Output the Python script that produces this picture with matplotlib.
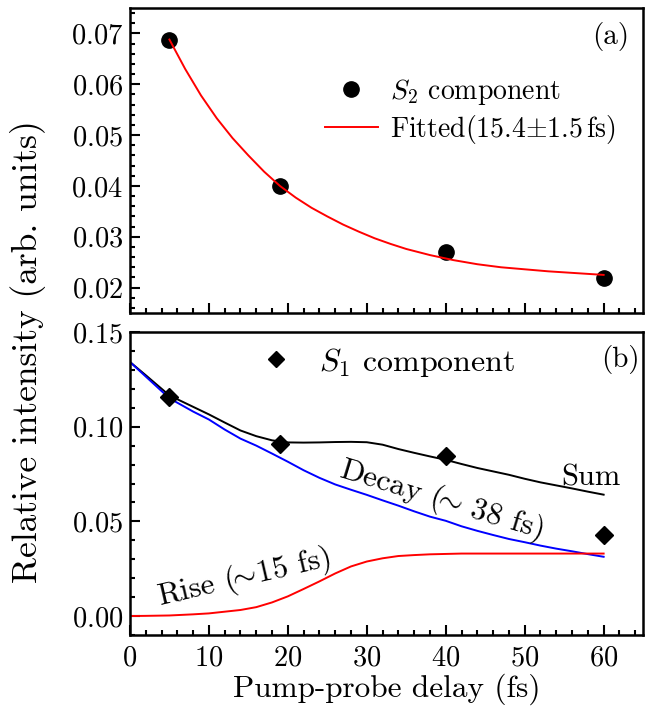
import numpy as np
import matplotlib
matplotlib.use('Agg')
import matplotlib.pyplot as plt
from matplotlib.ticker import MultipleLocator

plt.rcParams['font.family'] = 'serif'
plt.rcParams['font.serif'] = ['cmr10']
plt.rcParams['mathtext.fontset'] = 'cm'
plt.rcParams['axes.formatter.use_mathtext'] = True
plt.rcParams['axes.unicode_minus'] = False

# (a) S2 component and exponential fit
s2_delay = [5, 19, 40, 60]
s2_value = [0.0688, 0.0399, 0.0270, 0.0219]
fit_delay = [5, 7, 9, 11, 13, 15, 17, 19, 21, 23, 25, 27, 29, 31, 33, 35,
             38, 41, 44, 47, 50, 53, 56, 60]
fit_value = [0.0688, 0.0630, 0.0578, 0.0533, 0.0494, 0.0460, 0.0428, 0.0400,
             0.0377, 0.0357, 0.0340, 0.0324, 0.0310, 0.0297, 0.0286, 0.0276,
             0.0264, 0.0254, 0.0246, 0.0240, 0.0236, 0.0232, 0.0229, 0.0225]

# (b) S1 component with rise / decay / sum curves
s1_delay = [5, 19, 40, 60]
s1_value = [0.1158, 0.0909, 0.0847, 0.0430]
curve_delay = [0, 2, 5, 8, 10, 12, 14, 16, 18, 20, 22, 24, 26, 28, 30, 32, 34,
               36, 38, 40, 42, 44, 46, 48, 50, 52, 54, 56, 58, 60]
sum_value = [0.1342, 0.1272, 0.1165, 0.1105, 0.1065, 0.1022, 0.0980, 0.0950,
             0.0928, 0.0917, 0.0916, 0.0917, 0.0919, 0.0920, 0.0918, 0.0905,
             0.0882, 0.0862, 0.0843, 0.0825, 0.0803, 0.0782, 0.0764, 0.0746,
             0.0725, 0.0706, 0.0690, 0.0674, 0.0657, 0.0641]
decay_value = [0.1342, 0.1265, 0.1150, 0.1080, 0.1038, 0.0985, 0.0937, 0.0900,
               0.0858, 0.0815, 0.0770, 0.0730, 0.0695, 0.0667, 0.0640, 0.0611,
               0.0583, 0.0553, 0.0525, 0.0503, 0.0474, 0.0450, 0.0428, 0.0407,
               0.0390, 0.0372, 0.0356, 0.0342, 0.0327, 0.0313]
rise_value = [0.0, 0.0001, 0.0003, 0.0009, 0.0014, 0.0023, 0.0032, 0.0047,
              0.0072, 0.0104, 0.0143, 0.0183, 0.0225, 0.0262, 0.0288, 0.0305,
              0.0317, 0.0322, 0.0326, 0.0328, 0.0330, 0.0330, 0.0330, 0.0330,
              0.0330, 0.0330, 0.0330, 0.0330, 0.0330, 0.0330]

fig = plt.figure(figsize=(6.63, 7.09), dpi=100)
ax1 = fig.add_axes([0.196, 0.5585, 0.774, 0.4302])
ax2 = fig.add_axes([0.196, 0.1044, 0.774, 0.4273], sharex=ax1)

for ax in (ax1, ax2):
    for sp in ax.spines.values():
        sp.set_linewidth(1.8)
    ax.tick_params(which='both', direction='in', top=False, right=False,
                   width=1.5, labelsize=20.5)
    ax.tick_params(which='major', length=7)
    ax.tick_params(which='minor', length=3.5)
    ax.xaxis.set_major_locator(MultipleLocator(10))
    ax.xaxis.set_minor_locator(MultipleLocator(2))

# panel (a)
ax1.plot(s2_delay, s2_value, 'o', color='black', ms=11,
         label=r'$S_2$ component', zorder=2)
ax1.plot(fit_delay, fit_value, '-', color='red', lw=1.4,
         label=r'Fitted(15.4$\pm$1.5$\,$fs)', zorder=3)
ax1.set_xlim(0, 65)
ax1.set_ylim(0.015, 0.075)
ax1.yaxis.set_major_locator(MultipleLocator(0.01))
ax1.yaxis.set_minor_locator(MultipleLocator(0.002))
ax1.tick_params(axis='x', labelbottom=False)
ax1.tick_params(axis='y', pad=5)
ax1.legend(loc='center left', bbox_to_anchor=(0.38, 0.661), frameon=False,
           fontsize=20, borderpad=0, borderaxespad=0, handlelength=1.9,
           handletextpad=0.43, labelspacing=0.2, numpoints=1)
ax1.text(0.936, 0.905, '(a)', transform=ax1.transAxes, fontsize=21,
         ha='center', va='center')

# panel (b)
ax2.plot(curve_delay, sum_value, '-', color='black', lw=1.4)
ax2.plot(curve_delay, decay_value, '-', color='blue', lw=1.4)
ax2.plot(curve_delay, rise_value, '-', color='red', lw=1.4)
ax2.plot(s1_delay, s1_value, 'D', color='black', ms=9.5,
         label=r'$S_1$ component', zorder=4)
ax2.set_ylim(-0.01, 0.15)
ax2.yaxis.set_major_locator(MultipleLocator(0.05))
ax2.yaxis.set_minor_locator(MultipleLocator(0.01))
ax2.tick_params(axis='y', pad=5)
ax2.tick_params(axis='x', pad=7)
ax2.legend(loc='center left', bbox_to_anchor=(0.253, 0.901), frameon=False,
           fontsize=23, borderpad=0, borderaxespad=0, handlelength=1.0,
           handletextpad=0.85, numpoints=1, markerscale=0.85)
ax2.text(0.955, 0.908, '(b)', transform=ax2.transAxes, fontsize=21,
         ha='center', va='center')
ax2.text(58.4, 0.073, 'Sum', fontsize=22, ha='center', va='center')
ax2.text(39.4, 0.0615, r'Decay ($\!\!{\sim}\,$38 fs)', fontsize=22.5,
         rotation=-17, rotation_mode='anchor', ha='center', va='center')
ax2.text(14.5, 0.0200, r'Rise ($\!\!{\sim}\!$15 fs)', fontsize=22.5,
         rotation=13, rotation_mode='anchor', ha='center', va='center')
ax2.set_xlabel('Pump-probe delay (fs)', fontsize=22.5, labelpad=2)

fig.text(28 / 663, 1 - 352 / 709, 'Relative intensity (arb. units)',
         fontsize=25.5, rotation=90, ha='center', va='center')

fig.savefig('out.png', dpi=100)
